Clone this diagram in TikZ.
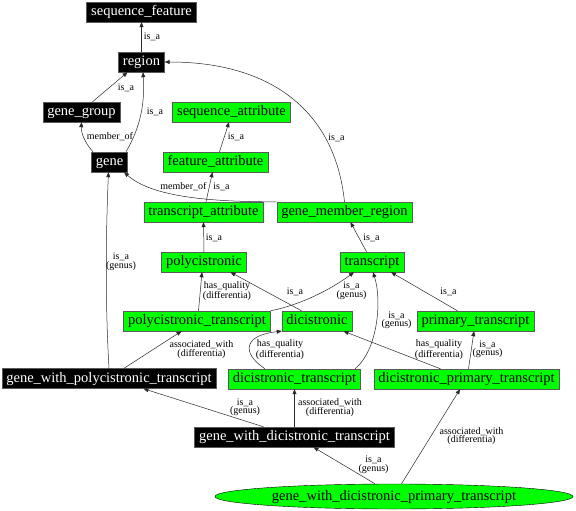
\documentclass[tikz,border=0pt]{standalone}
\usepackage{fontspec}
\setmainfont{Liberation Serif}
\usetikzlibrary{arrows.meta, shapes.geometric}
\definecolor{termgreen}{RGB}{0,255,0}
\definecolor{boxgray}{RGB}{90,90,90}
\definecolor{edgegray}{RGB}{40,40,40}

\begin{document}
\begin{tikzpicture}[x=1pt, y=-1pt,
  term/.style={draw=boxgray, rectangle, minimum height=20pt, inner xsep=4.5pt, inner ysep=0pt, text height=10pt, text depth=3pt, font=\fontsize{14.5}{16}\selectfont},
  blk/.style={term, fill=black, text=white},
  grn/.style={term, fill=termgreen},
  rel/.style={draw=edgegray, line width=0.5pt, -{Triangle[length=5pt, width=4pt]}},
  lbl/.style={font=\fontsize{10}{8.5}\selectfont, align=center, inner sep=0pt}]
\useasboundingbox[fill=white] (0,0) rectangle (576,511);

\node[blk] (seqfeat) at (141.5,12) {sequence\_feature};
\node[blk] (region) at (141.5,62) {region};
\node[blk] (genegroup) at (81.5,112) {gene\_group};
\node[blk] (gene) at (109.5,162) {gene};
\node[grn] (seqattr) at (231.5,112) {sequence\_attribute};
\node[grn] (featattr) at (215.5,162) {feature\_attribute};
\node[grn] (trattr) at (203.5,212) {transcript\_attribute};
\node[grn] (gmregion) at (344.5,212) {gene\_member\_region};
\node[grn] (poly) at (204,262) {polycistronic};
\node[grn] (transcript) at (372,262) {transcript};
\node[grn] (polytr) at (197,321) {polycistronic\_transcript};
\node[grn] (dici) at (317,321) {dicistronic};
\node[grn] (primtr) at (475.5,321) {primary\_transcript};
\node[blk] (genepoly) at (109,378.5) {gene\_with\_polycistronic\_transcript};
\node[grn] (dicitr) at (294.5,379) {dicistronic\_transcript};
\node[grn] (diciprim) at (466.5,379) {dicistronic\_primary\_transcript};
\node[blk] (genedici) at (294.5,437) {gene\_with\_dicistronic\_transcript};
\node[grn, ellipse, draw=black, minimum width=358pt, minimum height=25pt, inner sep=0pt] (genediciprim) at (394,496.5) {gene\_with\_dicistronic\_primary\_transcript};

\draw[rel] (region.north) -- (seqfeat.south) node[lbl] at (152,37) {is\_a};
\draw[rel] ([xshift=11pt]genegroup.north) -- ([xshift=-14pt]region.south) node[lbl] at (126,88) {is\_a};
\draw[rel] ([xshift=16.5pt]gene.north) .. controls (140,128) and (145,105) .. ([xshift=1.5pt]region.south) node[lbl] at (155,112) {is\_a};
\draw[rel] ([xshift=-16.5pt]gene.north) .. controls (85,143) and (81,133) .. (genegroup.south) node[lbl] at (110,137) {member\_of};
\draw[rel] ([xshift=4pt]featattr.north) -- ([xshift=-2.5pt]seqattr.south) node[lbl] at (236,137) {is\_a};
\draw[rel] (gmregion.north) .. controls (335,110) and (270,62) .. (region.east) node[lbl] at (336.5,138) {is\_a};
\draw[rel] ([xshift=2.5pt]trattr.north) -- ([xshift=-3pt]featattr.south) node[lbl] at (221.5,187) {is\_a};
\draw[rel] (gmregion.north west) .. controls (200,202) and (150,195) .. ([xshift=14.5pt]gene.south) node[lbl] at (183.5,187) {member\_of};
\draw[rel] (poly.north) -- (trattr.south) node[lbl] at (214,237.5) {is\_a};
\draw[rel] ([xshift=-5.5pt]transcript.north) -- ([xshift=6pt]gmregion.south) node[lbl] at (371.5,237.5) {is\_a};
\draw[rel] (genepoly.north) .. controls (105,300) and (106,230) .. ([xshift=-1pt]gene.south) node[lbl] at (121,262) {is\_a\\(genus)};
\draw[rel] ([xshift=1.5pt]polytr.north) -- ([xshift=-2pt]poly.south) node[lbl] at (227,291) {has\_quality\\(differentia)};
\draw[rel] (polytr.north east) .. controls (300,305) and (330,290) .. ([xshift=-18pt]transcript.south) node[lbl] at (351.5,291) {is\_a\\(genus)};
\draw[rel] ([xshift=-15.5pt]dici.north) -- ([xshift=26.5pt]poly.south) node[lbl] at (295,291.5) {is\_a};
\draw[rel] ([xshift=-18pt]primtr.north) -- ([xshift=19pt]transcript.south) node[lbl] at (448.5,291.5) {is\_a};
\draw[rel] ([xshift=15pt]genepoly.north) -- ([xshift=-15.5pt]polytr.south) node[lbl] at (201.5,349.5) {associated\_with\\(differentia)};
\draw[rel] ([xshift=-29.5pt]dicitr.north) .. controls (240,352) and (245,335) .. (dici.south west) node[lbl] at (280,349.5) {has\_quality\\(differentia)};
\draw[rel] ([xshift=60.5pt]dicitr.north) .. controls (378,350) and (382,300) .. ([xshift=1pt]transcript.south) node[lbl] at (396.5,320.5) {is\_a\\(genus)};
\draw[rel] ([xshift=-26pt]diciprim.north) -- ([xshift=26.5pt]dici.south) node[lbl] at (439,349.5) {has\_quality\\(differentia)};
\draw[rel] ([xshift=2pt]diciprim.north) -- ([xshift=-1.5pt]primtr.south) node[lbl] at (487.5,349.5) {is\_a\\(genus)};
\draw[rel] ([xshift=-31pt]genedici.north) -- ([xshift=34.5pt]genepoly.south) node[lbl] at (245,407.5) {is\_a\\(genus)};
\draw[rel] (genedici.north) -- (dicitr.south) node[lbl] at (330,407.5) {associated\_with\\(differentia)};
\draw[rel] ([xshift=-19pt]genediciprim.north) -- ([xshift=19pt]genedici.south) node[lbl] at (373.5,465) {is\_a\\(genus)};
\draw[rel] ([xshift=7.5pt]genediciprim.north) -- ([xshift=-6.5pt]diciprim.south) node[lbl] at (471.5,436) {associated\_with\\(differentia)};
\end{tikzpicture}
\end{document}
